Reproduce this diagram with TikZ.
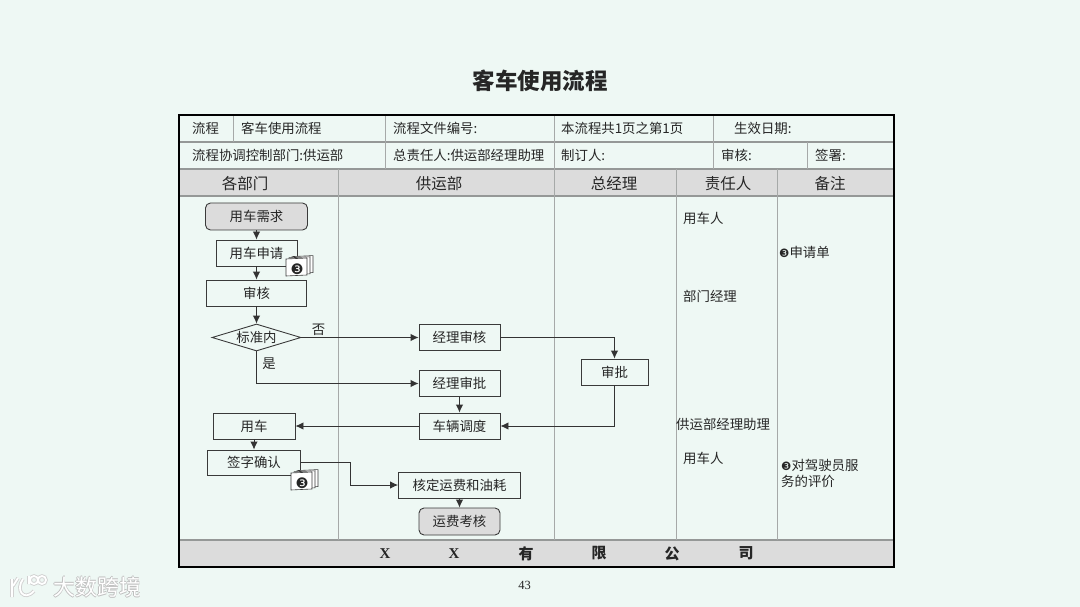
\documentclass[tikz,border=0pt]{standalone}
\usepackage{fontspec}
\setmainfont{Noto Sans CJK SC}
\newfontfamily\latinfont{Liberation Serif}
\newfontfamily\dingfont{DejaVu Sans}
\usetikzlibrary{arrows.meta}
\usetikzlibrary{shapes.geometric}
\definecolor{pagebg}{HTML}{EEF8F4}
\definecolor{headgray}{HTML}{DCDCDC}
\definecolor{gridgray}{HTML}{A6A9A8}
\definecolor{inkgray}{HTML}{3A3A3A}
\newcommand{\circledthree}{{\dingfont\char"2778}}
\tikzset{
  txt/.style={font=\fontsize{13.4}{16}\selectfont,inner sep=0pt,text=black!85},
  cell/.style={txt,anchor=west},
  head/.style={txt,font=\fontsize{15.5}{18}\selectfont},
  foot/.style={txt,font=\fontsize{15}{18}\selectfont\bfseries},
  stepbox/.style={txt,draw=inkgray,line width=0.9pt,fill=pagebg,inner sep=0pt,minimum height=26pt},
  endbox/.style={stepbox,fill=headgray,rounded corners=5pt,minimum height=27pt},
  arr/.style={draw=black!80,line width=0.9pt,-{Latex[length=8pt,width=7.5pt]}},
  grid/.style={gridgray,line width=1pt},
  gridh/.style={gridgray!90!black,line width=1.4pt},
  sheet/.style={draw=inkgray,line width=0.6pt,fill=white},
}
\begin{document}
\begin{tikzpicture}[x=1pt,y=-1pt]
  \useasboundingbox[fill=pagebg] (0,0) rectangle (1080,607);
  \node[txt,font=\fontsize{22.5}{26}\selectfont\bfseries] (title) at (540,81) {客车使用流程};
  % table
  \fill[headgray] (179,169) rectangle (894,196) (179,540) rectangle (894,567);
  \draw[gridh] (179,142) -- (894,142) (179,169) -- (894,169) (179,196) -- (894,196) (179,540) -- (894,540);
  \draw[grid] (233,115) -- (233,142) (385,115) -- (385,169) (554,115) -- (554,169) (713,115) -- (713,169) (807,142) -- (807,169);
  \draw[grid] (338,169) -- (338,540) (554,169) -- (554,540) (676,169) -- (676,540) (777,169) -- (777,540);
  \draw[black,line width=2.8pt] (179,115) rectangle (894,567);
  \node[cell] (t1) at (192,128.5) {流程};
  \node[cell] (t2) at (241,128.5) {客车使用流程};
  \node[cell] (t3) at (393,128.5) {流程文件编号:};
  \node[cell] (t4) at (561,128.5) {本流程共1页之第1页};
  \node[cell] (t5) at (734,128.5) {生效日期:};
  \node[cell] (t6) at (192,155.5) {流程协调控制部门:供运部};
  \node[cell] (t7) at (393,155.5) {总责任人:供运部经理助理};
  \node[cell] (t8) at (561,155.5) {制订人:};
  \node[cell] (t9) at (721,155.5) {审核:};
  \node[cell] (t10) at (815,155.5) {签署:};
  \node[head] (h1) at (245,183.5) {各部门};
  \node[head] (h2) at (439,183.5) {供运部};
  \node[head] (h3) at (614,183.5) {总经理};
  \node[head] (h4) at (728,183.5) {责任人};
  \node[head] (h5) at (830,183.5) {备注};
  \node[foot] (f1) at (385,553.5) {\latinfont X};
  \node[foot] (f2) at (454,553.5) {\latinfont X};
  \node[foot] (f3) at (526,553.5) {有};
  \node[foot] (f4) at (599,553.5) {限};
  \node[foot] (f5) at (672,553.5) {公};
  \node[foot] (f6) at (746,553.5) {司};
  % flow
  \node[endbox,minimum width=102pt] (need) at (256.5,216.5) {用车需求};
  \node[stepbox,minimum width=81pt] (apply) at (256.5,253) {用车申请};
  \node[stepbox,minimum width=100pt] (check) at (256.5,293) {审核};
  \node[txt,diamond,draw=inkgray,line width=0.9pt,aspect=3.3,minimum width=89pt,minimum height=27pt] (std) at (256.5,337.5) {标准内};
  \node[stepbox,minimum width=81pt] (mcheck) at (459.5,337.5) {经理审核};
  \node[stepbox,minimum width=81pt] (mappr) at (459.5,383.5) {经理审批};
  \node[stepbox,minimum width=67pt] (appr) at (614.5,372) {审批};
  \node[stepbox,minimum width=81pt] (sched) at (459.5,426) {车辆调度};
  \node[stepbox,minimum width=82pt] (use) at (254,426) {用车};
  \node[stepbox,minimum width=93pt,minimum height=25pt] (sign) at (254,462.5) {签字确认};
  \node[stepbox,minimum width=122pt] (fee) at (459.5,485) {核定运费和油耗};
  \node[endbox,minimum width=81pt] (eval) at (459.5,521.5) {运费考核};
  \draw[arr] (need) -- (apply);
  \draw[arr] (apply) -- (check);
  \draw[arr] (check) -- (std);
  \draw[arr] (std) -- (mcheck);
  \draw[arr] (std) |- (mappr);
  \draw[arr] (mcheck) -| (appr);
  \draw[arr] (appr) |- (sched);
  \draw[arr] (mappr) -- (sched);
  \draw[arr] (sched) -- (use);
  \draw[arr] (use) -- (sign);
  \draw[arr] (sign.east) -- (350,462.5) |- (fee);
  \draw[arr] (fee) -- (eval);
  \node[txt] (no) at (318.5,329.5) {否};
  \node[txt] (yes) at (269,363.5) {是};
  % document stacks
  \foreach \dx/\dy in {6/-2.4,3/-1.2,0/0} {
    \draw[sheet] (286+\dx,259+\dy) -- (307+\dx,258+\dy) -- (307+\dx,275+\dy) -- (286+\dx,276+\dy) -- cycle;
    \draw[sheet] (291+\dx,473+\dy) -- (312+\dx,472+\dy) -- (312+\dx,489+\dy) -- (291+\dx,490+\dy) -- cycle;
  }
  \node[txt,font=\fontsize{14.5}{14}\selectfont] (doca) at (297,269.5) {\circledthree};
  \node[txt,font=\fontsize{14.5}{14}\selectfont] (docb) at (302,483.5) {\circledthree};
  % right columns
  \node[cell] (r1) at (683,218.5) {用车人};
  \node[cell] (r2) at (683,296.5) {部门经理};
  \node[cell] (r3) at (676,424.5) {供运部经理助理};
  \node[cell] (r4) at (683,458.5) {用车人};
  \node[cell] (n1) at (779,252.5) {{\fontsize{11.5}{12}\selectfont\circledthree}申请单};
  \node[cell,align=left] (n2) at (781,473.5) {{\fontsize{11.5}{12}\selectfont\circledthree}对驾驶员服\\[0pt]务的评价};
  \node[txt,font=\fontsize{12.5}{14}\selectfont] (page) at (524.5,585.5) {\latinfont 43};
  % watermark
  \foreach \col/\wid in {black!18/3.6,white/1.8} {
    \draw[\col,line width=\wid pt] (12,579) -- (12,597) (18,578) -- (13,586)
      (23,579) .. controls (15,590) and (24,602) .. (34,591)
      (29,576) -- (29,584) (34,580) circle (4) (42,580) circle (4);
  }
  \foreach \dx/\dy in {-0.8/0,0.8/0,0/-0.8,0/0.8} {
    \node[txt,text=black!25,font=\fontsize{22}{24}\selectfont] at (97+\dx,587+\dy) {大数跨境};
  }
  \node[txt,text=white,font=\fontsize{22}{24}\selectfont] (mark) at (97,587) {大数跨境};
\end{tikzpicture}
\end{document}
